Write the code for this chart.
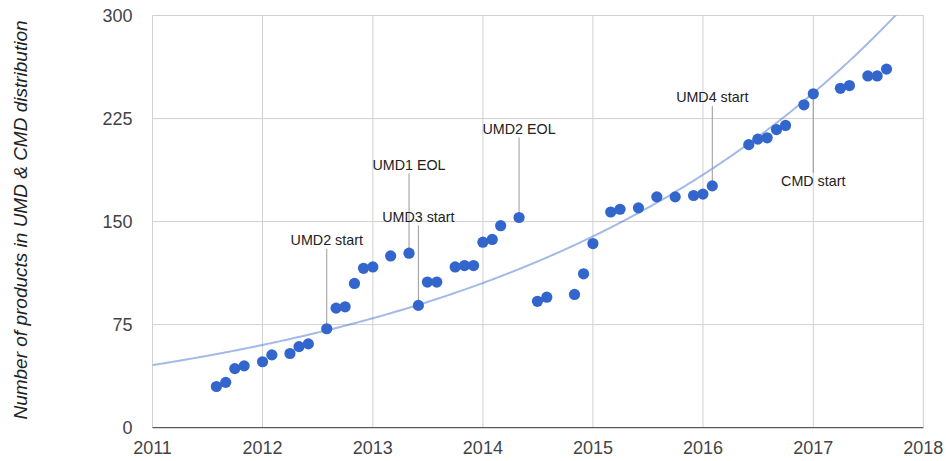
<!DOCTYPE html>
<meta charset="utf-8" />
<style>
  body {
    margin: 0;
    background: #fff;
  }
  text {
    font-family: Arial, "Liberation Sans", sans-serif;
  }
  .grid line {
    stroke: #d0d0d0;
  }
  .tick-label {
    fill: #444;
    font-size: 18px;
  }
  .trend {
    fill: none;
    stroke: #3366cc;
    stroke-opacity: 0.45;
    stroke-width: 2;
  }
  .dot {
    fill: #3366cc;
  }
  .stem {
    stroke: #999;
  }
  .note {
    fill: #222;
    font-size: 14.3px;
  }
  .title {
    fill: #222;
    font-size: 19px;
    font-style: italic;
  }
</style>
<body>
  <div id="chart"></div>
  <script src="https://d3js.org/d3.v7.min.js"></script>
  <script>
    const months = [
      "2011-08", "2011-09", "2011-10", "2011-11",
      "2012-01", "2012-02", "2012-04", "2012-05", "2012-06", "2012-08",
      "2012-09", "2012-10", "2012-11", "2012-12",
      "2013-01", "2013-03", "2013-05", "2013-06", "2013-07", "2013-08",
      "2013-10", "2013-11", "2013-12",
      "2014-01", "2014-02", "2014-03", "2014-05", "2014-07", "2014-08",
      "2014-11", "2014-12",
      "2015-01", "2015-03", "2015-04", "2015-06", "2015-08", "2015-10",
      "2015-12",
      "2016-01", "2016-02", "2016-06", "2016-07", "2016-08", "2016-09",
      "2016-10", "2016-12",
      "2017-01", "2017-04", "2017-05", "2017-07", "2017-08", "2017-09",
    ];
    const products = [
      30, 33, 43, 45,
      48, 53, 54, 59, 61, 72,
      87, 88, 105, 116,
      117, 125, 127, 89, 106, 106,
      117, 118, 118,
      135, 137, 147, 153, 92, 95,
      97, 112,
      134, 157, 159, 160, 168, 168,
      169,
      170, 176, 206, 210, 211, 217,
      220, 235,
      243, 247, 249, 256, 256, 261,
    ];

    const noteMonths = ["2012-08", "2013-05", "2013-06", "2014-05", "2016-02", "2017-01"];
    const noteLabels = ["UMD2 start", "UMD1 EOL", "UMD3 start", "UMD2 EOL", "UMD4 start", "CMD start"];

    const yearTicks = [2011, 2012, 2013, 2014, 2015, 2016, 2017, 2018];
    const yTicks = [0, 75, 150, 225, 300];
    const yTitle = "Number of products in UMD & CMD distribution";

    const width = 946;
    const height = 461;
    const margin = { top: 15.5, right: 22.7, bottom: 33.3, left: 152.5 };

    const parseMonth = d3.timeParse("%Y-%m");
    const data = months.map((m, i) => ({ date: parseMonth(m), value: products[i] }));

    const svg = d3
      .select("#chart")
      .append("svg")
      .attr("width", width)
      .attr("height", height);

    const x = d3
      .scaleTime()
      .domain([new Date(yearTicks[0], 0, 1), new Date(yearTicks[yearTicks.length - 1], 0, 1)])
      .range([margin.left, width - margin.right]);

    const y = d3
      .scaleLinear()
      .domain([0, 300])
      .range([height - margin.bottom, margin.top]);

    // gridlines
    const grid = svg.append("g").attr("class", "grid");
    grid
      .selectAll(".vx")
      .data(yearTicks)
      .enter()
      .append("line")
      .attr("x1", (d) => x(new Date(d, 0, 1)))
      .attr("x2", (d) => x(new Date(d, 0, 1)))
      .attr("y1", y(300))
      .attr("y2", y(0));
    grid
      .selectAll(".hy")
      .data(yTicks.filter((d) => d > 0))
      .enter()
      .append("line")
      .attr("x1", x.range()[0])
      .attr("x2", x.range()[1])
      .attr("y1", (d) => y(d))
      .attr("y2", (d) => y(d));

    // baseline
    svg
      .append("line")
      .attr("x1", x.range()[0])
      .attr("x2", x.range()[1])
      .attr("y1", y(0))
      .attr("y2", y(0))
      .attr("stroke", "#333");

    // tick labels
    svg
      .selectAll(".xl")
      .data(yearTicks)
      .enter()
      .append("text")
      .attr("class", "tick-label")
      .attr("x", (d) => x(new Date(d, 0, 1)))
      .attr("y", y(0) + 26.6)
      .attr("text-anchor", "middle")
      .text((d) => d);

    svg
      .selectAll(".yl")
      .data(yTicks)
      .enter()
      .append("text")
      .attr("class", "tick-label")
      .attr("x", margin.left - 20)
      .attr("y", (d) => y(d) + 6.2)
      .attr("text-anchor", "end")
      .text((d) => d);

    svg
      .append("text")
      .attr("class", "title")
      .attr("transform", `translate(27,220) rotate(-90)`)
      .attr("text-anchor", "middle")
      .text(yTitle);

    // exponential trendline: least squares fit of ln(value) over years
    const t0 = x.domain()[0].getTime();
    const yearMs = 365.25 * 24 * 3600 * 1000;
    const ts = data.map((d) => (d.date.getTime() - t0) / yearMs);
    const ls = data.map((d) => Math.log(d.value));
    const tm = d3.mean(ts);
    const lm = d3.mean(ls);
    const b =
      d3.sum(ts, (t, i) => (t - tm) * (ls[i] - lm)) /
      d3.sum(ts, (t) => (t - tm) * (t - tm));
    const a = lm - b * tm;

    svg
      .append("clipPath")
      .attr("id", "plot")
      .append("rect")
      .attr("x", margin.left)
      .attr("y", margin.top)
      .attr("width", width - margin.left - margin.right)
      .attr("height", height - margin.top - margin.bottom);

    const trendDates = d3.timeDay.every(7).range(x.domain()[0], x.domain()[1]);
    trendDates.push(x.domain()[1]);
    const trendLine = d3
      .line()
      .x((d) => x(d))
      .y((d) => y(Math.exp(a + b * ((d.getTime() - t0) / yearMs))));

    svg
      .append("path")
      .attr("class", "trend")
      .attr("clip-path", "url(#plot)")
      .attr("d", trendLine(trendDates));

    // annotations
    const notes = noteMonths.map((m, i) => {
      const d = data.find((p) => p.date.getTime() === parseMonth(m).getTime());
      return { date: d.date, value: d.value, label: noteLabels[i] };
    });

    const gNotes = svg.append("g");
    notes.forEach((n) => {
      const px = x(n.date);
      const py = y(n.value);
      const below = n.label === "CMD start";
      gNotes
        .append("line")
        .attr("class", "stem")
        .attr("x1", px)
        .attr("x2", px)
        .attr("y1", py)
        .attr("y2", below ? py + 79 : py - 80);
      gNotes
        .append("text")
        .attr("class", "note")
        .attr("x", px)
        .attr("y", below ? py + 92.5 : py - 83.5)
        .attr("text-anchor", "middle")
        .text(n.label);
    });

    // points
    svg
      .append("g")
      .selectAll("circle")
      .data(data)
      .enter()
      .append("circle")
      .attr("class", "dot")
      .attr("cx", (d) => x(d.date))
      .attr("cy", (d) => y(d.value))
      .attr("r", 5.6);
  </script>
</body>
